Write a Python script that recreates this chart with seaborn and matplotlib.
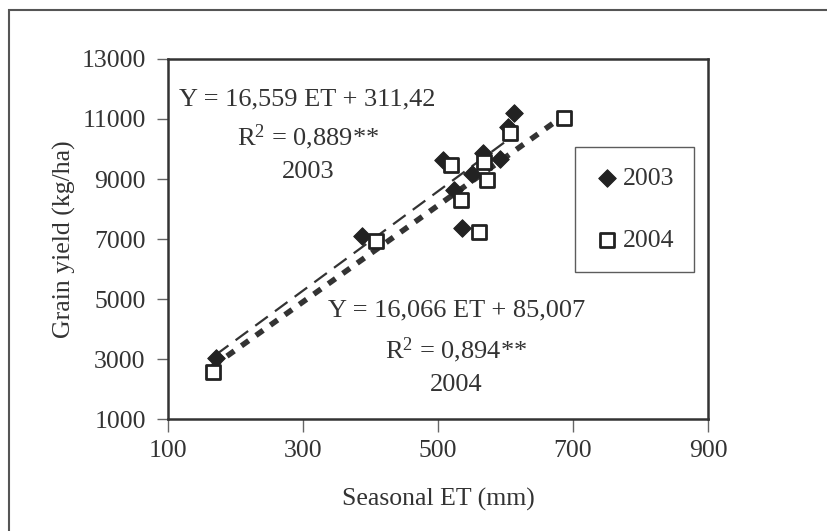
# Grain yield vs seasonal ET, 2003 and 2004
import matplotlib
import numpy as np
import pandas as pd
import seaborn as sns

matplotlib.use("Agg")
import matplotlib.pyplot as plt
from matplotlib.patches import Rectangle

et_2003 = [171, 387, 508, 524, 536, 551, 567, 592, 603, 613]
yield_2003 = [3040, 7100, 9630, 8630, 7380, 9180, 9880, 9680, 10740, 11200]
et_2004 = [166, 408, 519, 534, 561, 568, 572, 607, 687]
yield_2004 = [2580, 6930, 9470, 8290, 7230, 9570, 8960, 10540, 11040]

# fitted equations printed on the chart: slope, intercept
fit_2003 = (16.559, 311.42)
fit_2004 = (16.066, 85.007)

x_ticks = [100, 300, 500, 700, 900]
y_ticks = [1000, 3000, 5000, 7000, 9000, 11000, 13000]

sns.set_theme(style="white")
plt.rcParams["font.family"] = ["Liberation Serif", "DejaVu Serif"]
plt.rcParams["mathtext.default"] = "regular"
ink = "#333333"
fs = 18.5

df = pd.concat([
    pd.DataFrame({"et": et_2003, "y": yield_2003, "year": "2003"}),
    pd.DataFrame({"et": et_2004, "y": yield_2004, "year": "2004"}),
])

fig = plt.figure(figsize=(8.27, 5.31), dpi=100)
ax = fig.add_axes([0.2031, 0.2109, 0.6530, 0.6780])

# trend lines from the printed equations
xs = np.array([min(et_2003), max(et_2003)])
sns.lineplot(x=xs, y=fit_2003[0] * xs + fit_2003[1], ax=ax, color=ink,
             lw=1.6, linestyle=(0, (7, 4)), zorder=2)
xs = np.array([min(et_2004), max(et_2004)])
sns.lineplot(x=xs, y=fit_2004[0] * xs + fit_2004[1], ax=ax, color=ink,
             lw=4, linestyle=(0, (1.6, 1.6)), zorder=2)

sns.scatterplot(data=df[df.year == "2003"], x="et", y="y", ax=ax,
                marker="D", s=80, color="#222222", edgecolor="#222222",
                label="2003", zorder=3)
sns.scatterplot(data=df[df.year == "2004"], x="et", y="y", ax=ax,
                marker="s", s=95, facecolor="white", edgecolor="#222222",
                linewidth=2, label="2004", zorder=3)

ax.set_xlim(100, 900)
ax.set_ylim(1000, 13000)
ax.set_xticks(x_ticks)
ax.set_yticks(y_ticks)
ax.tick_params(axis="x", direction="out", length=9, width=1, color="#666666",
               pad=6, labelsize=fs, labelcolor=ink, bottom=True)
ax.tick_params(axis="y", direction="out", length=8, width=1, color="#666666",
               pad=8, labelsize=fs, labelcolor=ink, left=True)
for s in ax.spines.values():
    s.set_color(ink)
    s.set_linewidth(1.8)

ax.set_xlabel("Seasonal ET (mm)", fontsize=fs, color=ink, labelpad=19)
ax.set_ylabel("Grain yield (kg/ha)", fontsize=fs, color=ink, labelpad=4)

txt = dict(fontsize=19, color=ink, ha="center", va="center")
ax.text(307, 11667, "Y = 16,559 ET + 311,42", **txt)
ax.text(307, 10400, "R$^{2}$ = 0,889**", **txt)
ax.text(307, 9233, "2003", **txt)
ax.text(527, 4633, "Y = 16,066 ET + 85,007", **txt)
ax.text(527, 3300, "R$^{2}$ = 0,894**", **txt)
ax.text(527, 2133, "2004", **txt)

leg = ax.legend(loc="upper left", bbox_to_anchor=(0.754, 0.756), fontsize=fs,
                frameon=True, fancybox=False, labelspacing=1.53,
                handletextpad=0.12, borderpad=0.77, handlelength=0.95,
                borderaxespad=0, labelcolor=ink)
leg.get_frame().set_edgecolor(ink)
leg.get_frame().set_linewidth(1)

# outer chart border
fig.patches.append(Rectangle((9 / 827, -0.05), 1.1, 1 - 10 / 531 + 0.05,
                             transform=fig.transFigure, fill=False,
                             edgecolor="#555555", lw=1.5))

fig.savefig("out.png", dpi=100)
